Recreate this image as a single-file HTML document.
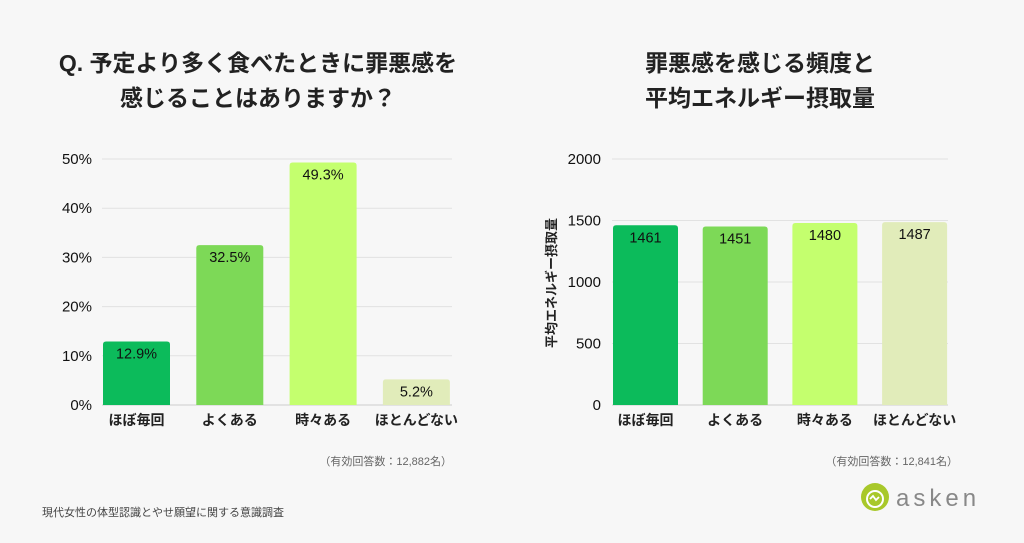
<!DOCTYPE html>
<html><head><meta charset="utf-8"><style>
body{margin:0;width:1024px;height:538px;background:#f7f7f7;overflow:hidden;font-family:"Liberation Sans","Noto Sans CJK JP",sans-serif}
svg text{font-family:"Liberation Sans","Noto Sans CJK JP",sans-serif}
</style></head><body>
<svg id="s" width="1024" height="538" xmlns="http://www.w3.org/2000/svg">
<text x="258" y="71" text-anchor="middle" font-size="23" font-weight="bold" fill="#222">Q. 予定より多く食べたときに罪悪感を</text>
<text x="258" y="106" text-anchor="middle" font-size="23" font-weight="bold" fill="#222">感じることはありますか？</text>
<text x="760" y="71" text-anchor="middle" font-size="23" font-weight="bold" fill="#222">罪悪感を感じる頻度と</text>
<text x="760" y="106" text-anchor="middle" font-size="23" font-weight="bold" fill="#222">平均エネルギー摂取量</text>
<text x="452" y="465" text-anchor="end" font-size="11" fill="#666">（有効回答数：12,882名）</text>
<text x="958" y="465" text-anchor="end" font-size="11" fill="#666">（有効回答数：12,841名）</text>
<text x="42" y="516" font-size="11" fill="#444">現代女性の体型認識とやせ願望に関する意識調査</text>
<g>
<circle cx="875" cy="497" r="14" fill="#a8c82a"/>
<circle cx="875" cy="499" r="8" fill="none" stroke="#fff" stroke-width="2"/>
<path d="M870 499 l3 -3 l3 4 l3 -3" stroke="#fff" stroke-width="1.8" fill="none"/>
<text x="896" y="506" font-size="24" fill="#888" letter-spacing="4">asken</text>
</g>
<text transform="translate(556,283) rotate(-90)" text-anchor="middle" font-size="13" font-weight="bold" fill="#222">平均エネルギー摂取量</text>
<g id="L"></g><g id="R"></g>
</svg>
<script>
const categories=["ほぼ毎回","よくある","時々ある","ほとんどない"];
const pctValues=[12.9,32.5,49.3,5.2];
const pctTicks=[0,10,20,30,40,50];
const kcalValues=[1461,1451,1480,1487];
const kcalTicks=[0,500,1000,1500,2000];
const colors=["#0cbb5b","#7dd957","#c4ff6e","#e1ecba"];
const NS="http://www.w3.org/2000/svg";
function mk(t,a,p){const e=document.createElementNS(NS,t);for(const k in a)e.setAttribute(k,a[k]);p.appendChild(e);return e;}
function draw(g,cfg){
  const y=v=>cfg.y0-(v-0)/cfg.max*(cfg.y0-cfg.y1);
  cfg.ticks.forEach(t=>{
    const l=mk('line',{x1:cfg.x0,x2:cfg.x1,y1:y(t),y2:y(t),stroke:t===0?'#ccc':'#e2e2e2','stroke-width':1},g);
    
    
    const tx=mk('text',{x:cfg.tx,y:y(t)+5,'text-anchor':'end','font-size':15,fill:'#111'},g);
    tx.textContent=t+cfg.suf;
    
    
  });
  cfg.vals.forEach((v,i)=>{
    const bx=cfg.bx0+i*cfg.step;
    const r=mk('path',{d:`M${bx} ${cfg.y0}V${y(v)+3}Q${bx} ${y(v)} ${bx+3} ${y(v)}H${bx+cfg.bw-3}Q${bx+cfg.bw} ${y(v)} ${bx+cfg.bw} ${y(v)+3}V${cfg.y0}Z`,fill:colors[i]},g);
    
    
    const t=mk('text',{x:bx+cfg.bw/2,y:y(v)+17,'text-anchor':'middle','font-size':14.5,fill:'#111'},g);
    t.textContent=v+cfg.vsuf;
    
    
    const c=mk('text',{x:bx+cfg.bw/2,y:cfg.y0+20,'text-anchor':'middle','font-size':14,'font-weight':'bold',fill:'#222'},g);
    c.textContent=categories[i];
    
    
  });
}
draw(document.getElementById('L'),{vals:pctValues,ticks:pctTicks,max:50,y0:405,y1:159,x0:102,x1:452,tx:92,suf:'%',vsuf:'%',bx0:103,bw:67,step:93.3});
draw(document.getElementById('R'),{vals:kcalValues,ticks:kcalTicks,max:2000,y0:405,y1:159,x0:612,x1:948,tx:601,suf:'',vsuf:'',bx0:613,bw:65,step:89.7});
</script>
</body></html>
